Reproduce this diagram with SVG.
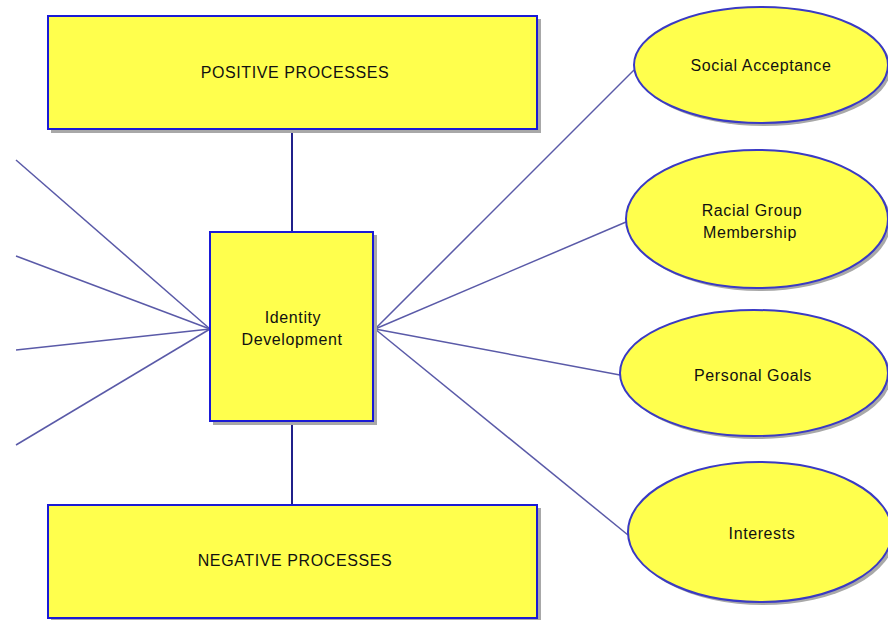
<svg xmlns="http://www.w3.org/2000/svg" width="888" height="620" viewBox="0 0 888 620">
  <style>
    .shadow { fill: #a8a8a8; stroke: none; }
    .box { fill: #ffff4d; stroke: #1a1ad6; stroke-width: 2; }
    .oval { fill: #ffff4d; stroke: #3a3ac4; stroke-width: 2; }
    .label { font-family: "Liberation Sans", Arial, sans-serif; font-size: 16px; fill: #111; text-anchor: middle; letter-spacing: 0.6px; }
    .link { stroke: #5a5aa8; stroke-width: 1.5; fill: none; }
    .stem { stroke: #20208a; stroke-width: 2; fill: none; }
  </style>

  <!-- connectors -->
  <g id="connectors">
    <line class="stem" x1="292" y1="130" x2="292" y2="232"/>
    <line class="stem" x1="292" y1="421" x2="292" y2="505"/>
    <line class="link" x1="16" y1="160" x2="210" y2="329"/>
    <line class="link" x1="16" y1="256" x2="210" y2="329"/>
    <line class="link" x1="16" y1="350" x2="210" y2="329"/>
    <line class="link" x1="16" y1="445" x2="210" y2="329"/>
    <line class="link" x1="375" y1="329" x2="634" y2="70"/>
    <line class="link" x1="375" y1="329" x2="626" y2="222"/>
    <line class="link" x1="375" y1="329" x2="620" y2="375"/>
    <line class="link" x1="375" y1="329" x2="628" y2="535"/>
  </g>

  <g id="positive-processes">
    <rect class="shadow" x="51" y="19" width="490" height="114"/>
    <rect class="box" x="48" y="16" width="489" height="113"/>
    <text class="label" x="295" y="78">POSITIVE PROCESSES</text>
  </g>

  <g id="identity-development">
    <rect class="shadow" x="213" y="235" width="164" height="190"/>
    <rect class="box" x="210" y="232" width="163" height="189"/>
    <text class="label" x="293" y="323">Identity</text>
    <text class="label" x="292" y="345">Development</text>
  </g>

  <g id="negative-processes">
    <rect class="shadow" x="51" y="508" width="490" height="114"/>
    <rect class="box" x="48" y="505" width="489" height="113"/>
    <text class="label" x="295" y="566">NEGATIVE PROCESSES</text>
  </g>

  <g id="social-acceptance">
    <ellipse class="shadow" cx="764" cy="68" rx="127" ry="58"/>
    <ellipse class="oval" cx="761" cy="65" rx="127" ry="58"/>
    <text class="label" x="761" y="71">Social Acceptance</text>
  </g>

  <g id="racial-group-membership">
    <ellipse class="shadow" cx="760" cy="222" rx="131" ry="69"/>
    <ellipse class="oval" cx="757" cy="219" rx="131" ry="69"/>
    <text class="label" x="752" y="216">Racial Group</text>
    <text class="label" x="750" y="238">Membership</text>
  </g>

  <g id="personal-goals">
    <ellipse class="shadow" cx="757" cy="376" rx="134" ry="63"/>
    <ellipse class="oval" cx="754" cy="373" rx="134" ry="63"/>
    <text class="label" x="753" y="381">Personal Goals</text>
  </g>

  <g id="interests">
    <ellipse class="shadow" cx="763" cy="535" rx="132" ry="70"/>
    <ellipse class="oval" cx="760" cy="532" rx="132" ry="70"/>
    <text class="label" x="762" y="539">Interests</text>
  </g>
</svg>
